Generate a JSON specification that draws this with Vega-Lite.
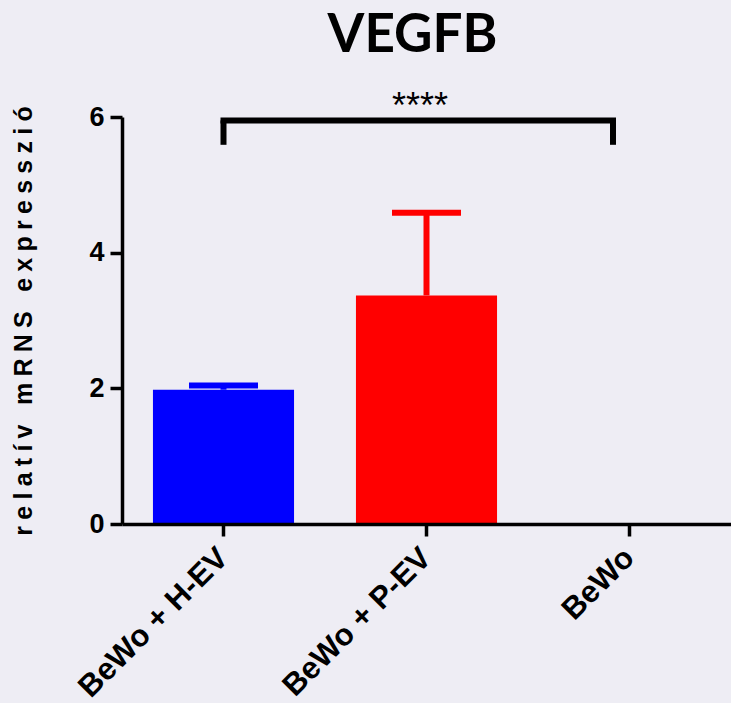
{
  "$schema": "https://vega.github.io/schema/vega-lite/v6.json",
  "autosize": {"type": "none"},
  "padding": {"left": 122, "top": 117, "right": 0, "bottom": 179},
  "width": 609,
  "height": 407,
  "background": "#EEEDF4",
  "config": {"view": {"stroke": null}, "font": "Liberation Sans"},
  "title": {
    "text": "VEGFB",
    "font": "Lato",
    "fontSize": 53,
    "fontWeight": "bold",
    "color": "#000000",
    "anchor": "middle",
    "dx": -14,
    "offset": 26
  },
  "datasets": {
    "expr": [
      {"group": "BeWo + H-EV", "mean": 1.98, "upper": 2.04},
      {"group": "BeWo + P-EV", "mean": 3.37, "upper": 4.59},
      {"group": "BeWo", "mean": 0, "upper": null}
    ],
    "sig": [
      {"from": "BeWo + H-EV", "mid": "BeWo + P-EV", "to": "BeWo", "top": 5.95, "foot": 5.59, "label_y": 5.99, "stars": "****"}
    ]
  },
  "layer": [
    {
      "data": {"name": "expr"},
      "mark": {"type": "bar"},
      "encoding": {
        "x": {
          "field": "group",
          "type": "nominal",
          "scale": {"domain": ["BeWo + H-EV", "BeWo + P-EV", "BeWo"], "paddingInner": 0.305, "paddingOuter": 0.1525},
          "axis": {
            "title": null,
            "labelAngle": -45,
            "labelAlign": "right",
            "labelBaseline": "middle",
            "labelFont": "Liberation Sans",
            "labelFontSize": 31,
            "labelFontWeight": "bold",
            "labelColor": "#000000",
            "labelPadding": 17,
            "labelLimit": 400,
            "domainColor": "#000000",
            "domainWidth": 3.5,
            "tickColor": "#000000",
            "tickWidth": 3.5,
            "tickSize": 12,
            "zindex": 1
          }
        },
        "y": {
          "field": "mean",
          "type": "quantitative",
          "scale": {"domain": [0, 6], "nice": false, "zero": true},
          "axis": {
            "title": "r\u2005e\u2005l\u2005a\u2005t\u2005í\u2005v\u2005 \u2005m\u2005R\u2005N\u2005S\u2005 \u2005e\u2005x\u2005p\u2005r\u2005e\u2005s\u2005s\u2005z\u2005i\u2005ó",
            "titleFont": "Liberation Sans",
            "titleFontSize": 25,
            "titleFontWeight": "bold",
            "titleColor": "#000000",
            "titlePadding": 52,
            "titleLimit": 600,
            "values": [0, 2, 4, 6],
            "format": "d",
            "grid": false,
            "labelFont": "Liberation Sans",
            "labelFontSize": 27,
            "labelFontWeight": "bold",
            "labelColor": "#000000",
            "labelPadding": 6,
            "domainColor": "#000000",
            "domainWidth": 3.5,
            "tickColor": "#000000",
            "tickWidth": 3.5,
            "tickSize": 12,
            "zindex": 1
          }
        },
        "color": {
          "field": "group",
          "type": "nominal",
          "scale": {"domain": ["BeWo + H-EV", "BeWo + P-EV", "BeWo"], "range": ["#0000FF", "#FF0000", "#000000"]},
          "legend": null
        }
      }
    },
    {
      "data": {"name": "expr"},
      "mark": {"type": "rule", "strokeWidth": 6, "opacity": 1},
      "encoding": {
        "x": {"field": "group", "type": "nominal"},
        "y": {"field": "mean", "type": "quantitative"},
        "y2": {"field": "upper"},
        "color": {"field": "group", "type": "nominal", "legend": null}
      }
    },
    {
      "data": {"name": "expr"},
      "mark": {"type": "tick", "size": 69, "thickness": 6, "opacity": 1},
      "encoding": {
        "x": {"field": "group", "type": "nominal"},
        "y": {"field": "upper", "type": "quantitative"},
        "color": {"field": "group", "type": "nominal", "legend": null}
      }
    },
    {
      "data": {"name": "sig"},
      "mark": {"type": "rule", "strokeWidth": 6, "strokeCap": "square", "color": "#000000", "x2Offset": -16.5},
      "encoding": {
        "x": {"field": "from", "type": "nominal"},
        "x2": {"field": "to"},
        "y": {"field": "top", "type": "quantitative"}
      }
    },
    {
      "data": {"name": "sig"},
      "mark": {"type": "rule", "strokeWidth": 6, "color": "#000000"},
      "encoding": {
        "x": {"field": "from", "type": "nominal"},
        "y": {"field": "foot", "type": "quantitative"},
        "y2": {"field": "top"}
      }
    },
    {
      "data": {"name": "sig"},
      "mark": {"type": "rule", "strokeWidth": 6, "color": "#000000", "xOffset": -16.5},
      "encoding": {
        "x": {"field": "to", "type": "nominal"},
        "y": {"field": "foot", "type": "quantitative"},
        "y2": {"field": "top"}
      }
    },
    {
      "data": {"name": "sig"},
      "mark": {"type": "text", "font": "Liberation Sans", "fontSize": 36, "align": "center", "baseline": "alphabetic", "color": "#000000", "dx": -6.5},
      "encoding": {
        "x": {"field": "mid", "type": "nominal"},
        "y": {"field": "label_y", "type": "quantitative"},
        "text": {"field": "stars"}
      }
    }
  ]
}
